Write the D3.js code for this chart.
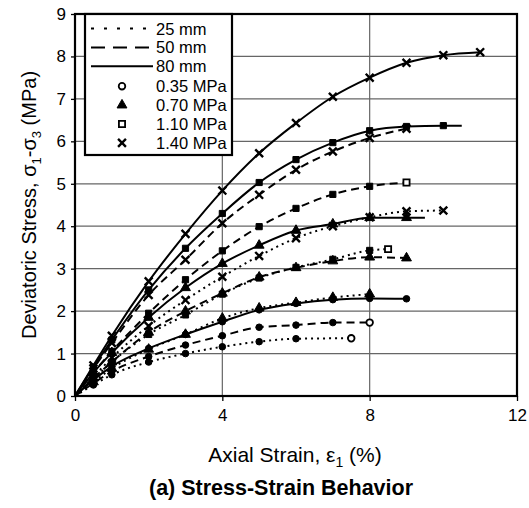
<!DOCTYPE html>
<html>
<head>
<meta charset="utf-8">
<script src="https://cdn.jsdelivr.net/npm/d3@7"></script>
<style>
  body { margin: 0; background: #fff; }
  text { font-family: "Liberation Sans", Arial, sans-serif; fill: #000; }
</style>
</head>
<body>
<svg id="chart" width="529" height="508"></svg>
<script>
// Specimen sizes and confining pressures (legend entries)
var sizes = ["25 mm", "50 mm", "80 mm"];
var pressures = ["0.35 MPa", "0.70 MPa", "1.10 MPa", "1.40 MPa"];

// Axis ticks
var xTicks = [0, 4, 8, 12];
var yTicks = [0, 1, 2, 3, 4, 5, 6, 7, 8, 9];

// Axial strain (%) / deviatoric stress (MPa)
var strain80_140 = [0, 0.5, 1, 2, 3, 4, 5, 6, 7, 8, 9, 10, 11];
var stress80_140 = [0, 0.72, 1.42, 2.7, 3.82, 4.84, 5.72, 6.43, 7.05, 7.5, 7.85, 8.03, 8.1];
var strain80_110 = [0, 0.5, 1, 2, 3, 4, 5, 6, 7, 8, 9, 10];
var stress80_110 = [0, 0.68, 1.32, 2.5, 3.48, 4.3, 5.03, 5.57, 5.97, 6.25, 6.35, 6.37];
var strain80_070 = [0, 0.5, 1, 2, 3, 4, 5, 6, 7, 8, 9];
var stress80_070 = [0, 0.55, 1.02, 1.85, 2.55, 3.12, 3.55, 3.9, 4.05, 4.2, 4.2];
var strain80_035 = [0, 0.5, 1, 2, 3, 4, 5, 6, 7, 8, 9];
var stress80_035 = [0, 0.38, 0.7, 1.12, 1.45, 1.75, 2.03, 2.18, 2.27, 2.3, 2.29];

var strain50_140 = [0, 0.5, 1, 2, 3, 4, 5, 6, 7, 8, 9];
var stress50_140 = [0, 0.65, 1.25, 2.38, 3.21, 4.07, 4.74, 5.33, 5.76, 6.08, 6.3];
var strain50_110 = [0, 0.5, 1, 2, 3, 4, 5, 6, 7, 8, 9];
var stress50_110 = [0, 0.55, 1.05, 1.95, 2.74, 3.42, 3.99, 4.42, 4.75, 4.94, 5.03];
var strain50_070 = [0, 0.5, 1, 2, 3, 4, 5, 6, 7, 8, 9];
var stress50_070 = [0, 0.42, 0.8, 1.5, 2.0, 2.42, 2.8, 3.02, 3.18, 3.27, 3.25];
var strain50_035 = [0, 0.5, 1, 2, 3, 4, 5, 6, 7, 8];
var stress50_035 = [0, 0.3, 0.58, 0.93, 1.2, 1.42, 1.62, 1.67, 1.73, 1.73];

var strain25_140 = [0, 0.5, 1, 2, 3, 4, 5, 6, 7, 8, 9, 10];
var stress25_140 = [0, 0.45, 0.9, 1.65, 2.26, 2.81, 3.3, 3.72, 4.0, 4.21, 4.35, 4.37];
var strain25_110 = [0, 0.5, 1, 2, 3, 4, 5, 6, 7, 8, 8.5];
var stress25_110 = [0, 0.4, 0.8, 1.45, 1.91, 2.4, 2.78, 3.03, 3.22, 3.43, 3.46];
var strain25_070 = [0, 0.5, 1, 2, 3, 4, 5, 6, 7, 8];
var stress25_070 = [0, 0.33, 0.65, 1.1, 1.45, 1.83, 2.07, 2.2, 2.32, 2.4];
var strain25_035 = [0, 0.5, 1, 2, 3, 4, 5, 6, 7.5];
var stress25_035 = [0, 0.26, 0.5, 0.8, 1.0, 1.16, 1.28, 1.35, 1.36];

// Line run-outs past the last marker: [size, pressure, strain, stress]
var lineTails = [
  ["80 mm", "1.10 MPa", 10.5, 6.37],
  ["80 mm", "0.70 MPa", 9.5, 4.2]
];
// Series whose last marker is drawn open
var openEnds = [
  ["25 mm", "0.35 MPa"], ["50 mm", "0.35 MPa"],
  ["25 mm", "1.10 MPa"], ["50 mm", "1.10 MPa"]
];

var series = [
  {size: "80 mm", p: "1.40 MPa", x: strain80_140, y: stress80_140},
  {size: "80 mm", p: "1.10 MPa", x: strain80_110, y: stress80_110},
  {size: "80 mm", p: "0.70 MPa", x: strain80_070, y: stress80_070},
  {size: "80 mm", p: "0.35 MPa", x: strain80_035, y: stress80_035},
  {size: "50 mm", p: "1.40 MPa", x: strain50_140, y: stress50_140},
  {size: "50 mm", p: "1.10 MPa", x: strain50_110, y: stress50_110},
  {size: "50 mm", p: "0.70 MPa", x: strain50_070, y: stress50_070},
  {size: "50 mm", p: "0.35 MPa", x: strain50_035, y: stress50_035},
  {size: "25 mm", p: "1.40 MPa", x: strain25_140, y: stress25_140},
  {size: "25 mm", p: "1.10 MPa", x: strain25_110, y: stress25_110},
  {size: "25 mm", p: "0.70 MPa", x: strain25_070, y: stress25_070},
  {size: "25 mm", p: "0.35 MPa", x: strain25_035, y: stress25_035}
];

// dash patterns in the plot and (a bit longer) in the legend
var dashFor = {"25 mm": "2,4", "50 mm": "8,5", "80 mm": null};
var legendDash = {"25 mm": "3,10", "50 mm": "14,8", "80 mm": null};

var svg = d3.select("#chart");
// plot box (note: `top` is a reserved window property, so use a prefix)
var pLeft = 75, pRight = 517, pTop = 14, pBottom = 396;

var x = d3.scaleLinear().domain([0, 12]).range([pLeft, pRight]);
var y = d3.scaleLinear().domain([0, 9]).range([pBottom, pTop]);

// Grid
svg.append("g")
  .selectAll("line")
  .data(yTicks.filter(d => d > 0 && d < 9))
  .enter().append("line")
    .attr("x1", pLeft).attr("x2", pRight)
    .attr("y1", d => y(d)).attr("y2", d => y(d))
    .attr("stroke", "#666").attr("stroke-width", 1.2);
svg.append("g")
  .selectAll("line")
  .data(xTicks.filter(d => d > 0 && d < 12))
  .enter().append("line")
    .attr("x1", d => x(d)).attr("x2", d => x(d))
    .attr("y1", pTop).attr("y2", pBottom)
    .attr("stroke", "#666").attr("stroke-width", 1.2);

// Axes
var xAxis = svg.append("g")
  .attr("transform", "translate(0," + pBottom + ")")
  .call(d3.axisBottom(x).tickValues(xTicks).tickSize(5).tickPadding(8));
var yAxis = svg.append("g")
  .attr("transform", "translate(" + pLeft + ",0)")
  .call(d3.axisLeft(y).tickValues(yTicks).tickSize(4).tickPadding(5));
[xAxis, yAxis].forEach(function(a) {
  a.select(".domain").remove();
  a.selectAll("line").attr("stroke", "#000").attr("stroke-width", 1.3);
  a.selectAll("text").attr("font-size", 17).attr("font-family", "Liberation Sans, Arial, sans-serif")
    .attr("fill", "#000");
});

// Curves
var line = d3.line()
  .x(d => x(d[0])).y(d => y(d[1]))
  .curve(d3.curveMonotoneX);

function symbolFor(p) {
  if (p === "0.35 MPa") return d3.symbolCircle;
  if (p === "0.70 MPa") return d3.symbolTriangle;
  if (p === "1.10 MPa") return d3.symbolSquare;
  return d3.symbolX;
}
function sizeFor(p) {
  if (p === "0.35 MPa") return 34;
  if (p === "0.70 MPa") return 42;
  if (p === "1.10 MPa") return 38;
  return 42;
}

function drawMarker(g, p, cx, cy, open) {
  var isX = p === "1.40 MPa";
  g.append("path")
    .attr("d", d3.symbol().type(symbolFor(p)).size(sizeFor(p))())
    .attr("transform", "translate(" + cx + "," + cy + ")")
    .attr("fill", isX ? "none" : (open ? "#fff" : "#000"))
    .attr("stroke", "#000")
    .attr("stroke-width", isX ? 2.4 : (open ? 1.8 : 1));
}

var plot = svg.append("g");
series.forEach(function(s) {
  var pts = s.x.map((v, i) => [v, s.y[i]]);
  var tail = lineTails.find(t => t[0] === s.size && t[1] === s.p);
  if (tail) pts.push([tail[2], tail[3]]);
  plot.append("path")
    .attr("d", line(pts))
    .attr("fill", "none")
    .attr("stroke", "#000")
    .attr("stroke-width", 2)
    .attr("stroke-dasharray", dashFor[s.size]);
});
series.forEach(function(s) {
  var open = openEnds.some(o => o[0] === s.size && o[1] === s.p);
  s.x.forEach(function(v, i) {
    if (v === 0) return;
    var last = i === s.x.length - 1;
    drawMarker(plot, s.p, x(v), y(s.y[i]), last && open);
  });
});

// Frame
svg.append("rect")
  .attr("x", pLeft).attr("y", pTop)
  .attr("width", pRight - pLeft).attr("height", pBottom - pTop)
  .attr("fill", "none").attr("stroke", "#000").attr("stroke-width", 2.2);

// Legend
var lg = svg.append("g");
var lx = 85, ly = 14, lw = 147, lh = 141, rowH = 18.9;
lg.append("rect")
  .attr("x", lx).attr("y", ly).attr("width", lw).attr("height", lh)
  .attr("fill", "#fff").attr("stroke", "#000").attr("stroke-width", 2.2);
sizes.forEach(function(s, i) {
  var cy = ly + 14.5 + i * rowH;
  lg.append("line")
    .attr("x1", lx + 6).attr("x2", lx + 68)
    .attr("y1", cy).attr("y2", cy)
    .attr("stroke", "#000").attr("stroke-width", 2)
    .attr("stroke-dasharray", legendDash[s]);
  lg.append("text")
    .attr("x", lx + 71).attr("y", cy + 6)
    .attr("font-size", 16.5)
    .text(s);
});
pressures.forEach(function(p, i) {
  var cy = ly + 14.5 + (i + 3) * rowH + 1;
  drawMarker(lg, p, lx + 37, cy, p === "0.35 MPa" || p === "1.10 MPa");
  lg.append("text")
    .attr("x", lx + 71).attr("y", cy + 6)
    .attr("font-size", 16.5)
    .text(p);
});

// Axis titles
var yt = svg.append("text")
  .attr("transform", "translate(36,205) rotate(-90)")
  .attr("text-anchor", "middle")
  .attr("font-size", 20);
yt.append("tspan").text("Deviatoric Stress, \u03c3");
yt.append("tspan").attr("font-size", 13).attr("dy", 5).text("1");
yt.append("tspan").attr("dy", -5).text("-\u03c3");
yt.append("tspan").attr("font-size", 13).attr("dy", 5).text("3");
yt.append("tspan").attr("dy", -5).text(" (MPa)");

var xt = svg.append("text")
  .attr("x", 295).attr("y", 462)
  .attr("text-anchor", "middle")
  .attr("font-size", 21);
xt.append("tspan").text("Axial Strain, \u03b5");
xt.append("tspan").attr("font-size", 14).attr("dy", 5).text("1");
xt.append("tspan").attr("dy", -5).text(" (%)");

svg.append("text")
  .attr("x", 281).attr("y", 495)
  .attr("text-anchor", "middle")
  .attr("font-size", 21.5)
  .attr("font-weight", "bold")
  .text("(a) Stress-Strain Behavior");
</script>
</body>
</html>
